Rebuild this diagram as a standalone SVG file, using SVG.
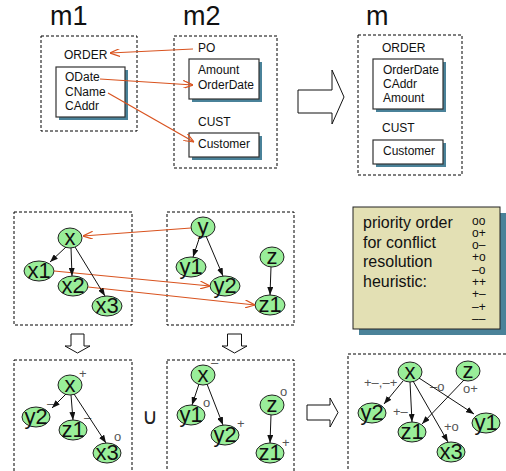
<svg xmlns="http://www.w3.org/2000/svg" width="506" height="471" viewBox="0 0 506 471">
<defs>
<style>
text{font-family:"Liberation Sans",Arial,sans-serif;fill:#111}
.dash{fill:none;stroke:#000;stroke-width:1;stroke-dasharray:3,2}
.fld{fill:#fff;stroke:#333;stroke-width:1.2}
.sh{fill:#4a8299}
.big{font-size:27px}
.lbl{font-size:12px}
.nd{fill:#99ee99;stroke:#222;stroke-width:1}
.nt{font-size:22px;text-anchor:middle}
.sup{font-size:13px;fill:#555}
.red{fill:none;stroke:#d9531f;stroke-width:1.2;marker-end:url(#ra)}
.blk{fill:none;stroke:#111;stroke-width:1;marker-end:url(#ba)}
.blockarrow{fill:#fff;stroke:#111;stroke-width:1}
.pr{font-size:16px}
.sym{font-size:12px}
</style>
<marker id="ra" viewBox="0 0 10 8" refX="10" refY="4" markerWidth="10" markerHeight="8" markerUnits="userSpaceOnUse" orient="auto">
<path d="M0,0 L10,4 L0,8" fill="none" stroke="#d9531f" stroke-width="1.2"/>
</marker>
<marker id="ba" viewBox="0 0 8 6" refX="8" refY="3" markerWidth="8" markerHeight="6" markerUnits="userSpaceOnUse" orient="auto">
<path d="M0,0 L8,3 L0,6 z" fill="#111"/>
</marker>
</defs>

<!-- Top section -->
<text class="big" x="50" y="25">m1</text>
<text class="big" x="183" y="25">m2</text>
<text class="big" x="366" y="25">m</text>

<g id="m1">
<rect class="dash" x="41" y="36" width="96" height="95"/>
<text class="lbl" x="64" y="59">ORDER</text>
<rect class="sh" x="59" y="70" width="69" height="50"/>
<rect class="fld" x="56" y="67" width="69" height="50"/>
<text class="lbl" x="65" y="81">ODate</text>
<text class="lbl" x="65" y="96">CName</text>
<text class="lbl" x="65" y="110">CAddr</text>
</g>

<g id="m2">
<rect class="dash" x="174" y="36" width="103" height="132"/>
<text class="lbl" x="198" y="52">PO</text>
<rect class="sh" x="192" y="62" width="70" height="40"/>
<rect class="fld" x="189" y="59" width="70" height="40"/>
<text class="lbl" x="198" y="74">Amount</text>
<text class="lbl" x="198" y="89">OrderDate</text>
<text class="lbl" x="198" y="126">CUST</text>
<rect class="sh" x="192" y="136" width="70" height="24"/>
<rect class="fld" x="189" y="133" width="70" height="24"/>
<text class="lbl" x="198" y="148">Customer</text>
</g>

<g id="m">
<rect class="dash" x="358" y="35" width="104" height="140"/>
<text class="lbl" x="382" y="52">ORDER</text>
<rect class="sh" x="376" y="62" width="70" height="50"/>
<rect class="fld" x="373" y="59" width="70" height="50"/>
<text class="lbl" x="383" y="74">OrderDate</text>
<text class="lbl" x="383" y="88">CAddr</text>
<text class="lbl" x="383" y="102">Amount</text>
<text class="lbl" x="382" y="132">CUST</text>
<rect class="sh" x="376" y="143" width="70" height="24"/>
<rect class="fld" x="373" y="140" width="70" height="24"/>
<text class="lbl" x="383" y="155">Customer</text>
</g>

<path id="arrow-top" class="blockarrow" d="M298,90 L332,90 L332,70 L344,97 L332,124 L332,113 L298,113 Z"/>

<!-- Middle section -->
<g id="g1">
<rect class="dash" x="14" y="212" width="118" height="113"/>
<g id="n-x"><ellipse class="nd" cx="70" cy="238" rx="12" ry="10"/><text class="nt" x="70" y="245">x</text></g>
<g id="n-x1"><ellipse class="nd" cx="39" cy="271" rx="15" ry="10"/><text class="nt" x="39" y="278">x1</text></g>
<g id="n-x2"><ellipse class="nd" cx="73" cy="286" rx="15" ry="10"/><text class="nt" x="73" y="293">x2</text></g>
<g id="n-x3"><ellipse class="nd" cx="107" cy="306" rx="15" ry="10"/><text class="nt" x="107" y="313">x3</text></g>
</g>

<g id="g2">
<rect class="dash" x="167" y="212" width="127" height="113"/>
<g id="n-y"><ellipse class="nd" cx="203" cy="227" rx="12" ry="10"/><text class="nt" x="203" y="234">y</text></g>
<g id="n-y1"><ellipse class="nd" cx="191" cy="267" rx="15" ry="10"/><text class="nt" x="191" y="274">y1</text></g>
<g id="n-y2"><ellipse class="nd" cx="225" cy="286" rx="15" ry="10"/><text class="nt" x="225" y="293">y2</text></g>
<g id="n-z"><ellipse class="nd" cx="272" cy="257" rx="12" ry="10"/><text class="nt" x="272" y="264">z</text></g>
<g id="n-z1"><ellipse class="nd" cx="270" cy="305" rx="15" ry="10"/><text class="nt" x="270" y="312">z1</text></g>
</g>

<g id="priority">
<rect x="359" y="213" width="148" height="122" fill="#4a8299"/>
<rect x="353" y="207" width="147" height="122" fill="#e3e0b4" stroke="#222" stroke-width="1"/>
<text class="pr" x="363" y="228">priority order</text>
<text class="pr" x="363" y="247.5">for conflict</text>
<text class="pr" x="363" y="267">resolution</text>
<text class="pr" x="363" y="286.5">heuristic:</text>
<text class="sym" x="472" y="224.5">oo</text>
<text class="sym" x="472" y="236.8">o+</text>
<text class="sym" x="472" y="249.1">o–</text>
<text class="sym" x="472" y="261.4">+o</text>
<text class="sym" x="472" y="273.7">–o</text>
<text class="sym" x="472" y="286">++</text>
<text class="sym" x="472" y="298.3">+–</text>
<text class="sym" x="472" y="310.6">–+</text>
<text class="sym" x="472" y="322.9">––</text>
</g>

<!-- Bottom section -->
<path id="arrow-down1" class="blockarrow" d="M71,334 L84,334 L84,346 L90,346 L77.5,353 L65,346 L71,346 Z"/>
<path id="arrow-down2" class="blockarrow" d="M227.5,334 L241.5,334 L241.5,346 L247,346 L234.5,353 L222,346 L227.5,346 Z"/>
<path id="arrow-right" class="blockarrow" d="M307,405 L330,405 L330,398 L338,412.5 L330,427 L330,420 L307,420 Z"/>
<text x="142" y="424" textLength="16" lengthAdjust="spacingAndGlyphs" style="font-family:'DejaVu Sans',sans-serif;font-size:22px;fill:#222">∪</text>

<g id="r1">
<rect class="dash" x="14" y="360" width="118" height="120"/>
<g id="b1-x"><ellipse class="nd" cx="70" cy="385" rx="12" ry="10"/><text class="nt" x="70" y="392">x</text><text class="sup" x="79" y="378">+</text></g>
<g id="b1-y2"><ellipse class="nd" cx="36" cy="417" rx="14" ry="10"/><text class="nt" x="36" y="424">y2</text><text class="sup" x="47" y="408">–</text></g>
<g id="b1-z1"><ellipse class="nd" cx="73" cy="430" rx="14" ry="10"/><text class="nt" x="73" y="437">z1</text><text class="sup" x="84" y="422">–</text></g>
<g id="b1-x3"><ellipse class="nd" cx="107" cy="453" rx="14" ry="10"/><text class="nt" x="107" y="460">x3</text><text class="sup" x="114" y="441">o</text></g>
</g>

<g id="r2">
<rect class="dash" x="167" y="360" width="127" height="120"/>
<g id="b2-x"><ellipse class="nd" cx="203" cy="375" rx="12" ry="10"/><text class="nt" x="203" y="382">x</text><text class="sup" x="211" y="367">–</text></g>
<g id="b2-y1"><ellipse class="nd" cx="191" cy="415" rx="14" ry="10"/><text class="nt" x="191" y="422">y1</text><text class="sup" x="203" y="407">o</text></g>
<g id="b2-y2"><ellipse class="nd" cx="225" cy="435" rx="14" ry="10"/><text class="nt" x="225" y="442">y2</text><text class="sup" x="237" y="428">+</text></g>
<g id="b2-z"><ellipse class="nd" cx="272" cy="405" rx="12" ry="10"/><text class="nt" x="272" y="412">z</text><text class="sup" x="280" y="396">o</text></g>
<g id="b2-z1"><ellipse class="nd" cx="270" cy="453" rx="14" ry="10"/><text class="nt" x="270" y="460">z1</text><text class="sup" x="282" y="447">+</text></g>
</g>

<g id="r3">
<rect class="dash" x="348" y="354" width="170" height="130"/>
<g id="b3-x"><ellipse class="nd" cx="410" cy="372" rx="12" ry="10"/><text class="nt" x="410" y="379">x</text></g>
<g id="b3-z"><ellipse class="nd" cx="468" cy="371" rx="12" ry="10"/><text class="nt" x="468" y="378">z</text></g>
<g id="b3-y2"><ellipse class="nd" cx="372" cy="413" rx="14" ry="10"/><text class="nt" x="372" y="420">y2</text></g>
<g id="b3-z1"><ellipse class="nd" cx="412" cy="432" rx="14" ry="10"/><text class="nt" x="412" y="439">z1</text></g>
<g id="b3-x3"><ellipse class="nd" cx="451" cy="452" rx="14" ry="10"/><text class="nt" x="451" y="459">x3</text></g>
<g id="b3-y1"><ellipse class="nd" cx="486" cy="423" rx="14" ry="10"/><text class="nt" x="486" y="430">y1</text></g>
<text class="sup" x="364" y="387">+–,–+</text>
<text class="sup" x="430" y="391">–o</text>
<text class="sup" x="463" y="393">o+</text>
<text class="sup" x="393" y="416">+–</text>
<text class="sup" x="444" y="431">+o</text>
</g>

<g id="connectors">
<path class="red" d="M193,49 L110,53"/>
<path class="red" d="M100,79 L193,85"/>
<path class="red" d="M108,93 L194,142"/>
<path class="red" d="M191,228 L83,236"/>
<path class="red" d="M54,271 L210,286"/>
<path class="red" d="M88,287 L255,305"/>
<path class="blk" d="M66,247 L50,262"/>
<path class="blk" d="M71,248 L72,276"/>
<path class="blk" d="M75,247 L105,296"/>
<path class="blk" d="M200,236 L193,257"/>
<path class="blk" d="M206,236 L223,276"/>
<path class="blk" d="M271,267 L270,295"/>
<path class="blk" d="M66,394 L52,408"/>
<path class="blk" d="M71,395 L73,420"/>
<path class="blk" d="M74,394 L106,443"/>
<path class="blk" d="M199,384 L192,405"/>
<path class="blk" d="M207,384 L223,425"/>
<path class="blk" d="M271,415 L270,443"/>
<path class="blk" d="M403,381 L384,404"/>
<path class="blk" d="M410,382 L412,422"/>
<path class="blk" d="M413,381 L448,442"/>
<path class="blk" d="M419,378 L474,414"/>
<path class="blk" d="M464,380 L422,424"/>
</g>
</svg>
